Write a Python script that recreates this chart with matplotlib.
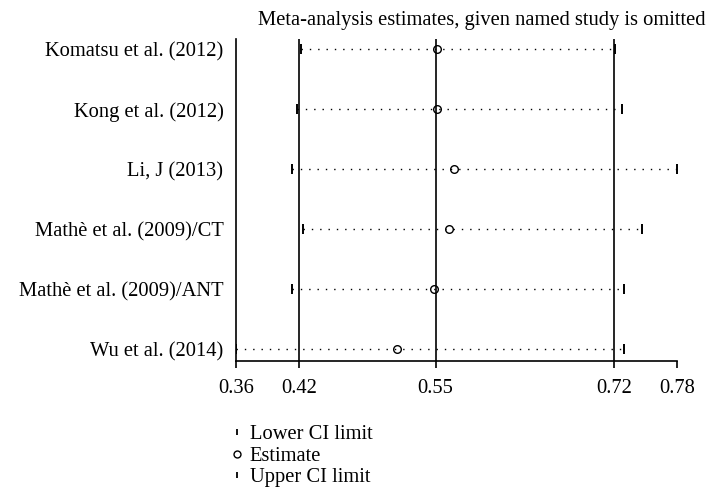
import matplotlib
matplotlib.use("Agg")
import matplotlib.pyplot as plt
from matplotlib.lines import Line2D

studies = ["Komatsu et al. (2012)", "Kong et al. (2012)", "Li, J (2013)",
           "Mathè et al. (2009)/CT", "Mathè et al. (2009)/ANT", "Wu et al. (2014)"]
lower = [0.422, 0.418, 0.413, 0.424, 0.413, 0.360]
estimate = [0.551, 0.551, 0.568, 0.563, 0.549, 0.513]
upper = [0.721, 0.728, 0.780, 0.747, 0.730, 0.730]
ref_lines = [0.42, 0.55, 0.72]
xticks = [0.36, 0.42, 0.55, 0.72, 0.78]
xtick_labels = ["0.36", "0.42", "0.55", "0.72", "0.78"]

plt.rcParams['font.family'] = ['Liberation Serif', 'DejaVu Serif']
FS = 14.8

fig = plt.figure(figsize=(7.12, 4.95), dpi=100)
ax = fig.add_axes([236/712, 1-361/495, (677-236)/712, (361-39)/495])

rows = list(range(1, len(studies) + 1))
for y, lo, est, up in zip(rows, lower, estimate, upper):
    ax.plot([lo, up], [y, y], color='black', lw=1.0, linestyle=(0, (1, 5)))
ax.plot(lower, rows, linestyle='none', marker='|', markersize=7, mew=1.4, color='black')
ax.plot(upper, rows, linestyle='none', marker='|', markersize=7, mew=1.4, color='black')
ax.plot(estimate, rows, linestyle='none', marker='o', markersize=5.5, mfc='none', mec='black', mew=1.0)

for v in ref_lines:
    ax.axvline(v, color='black', lw=1.2)

ax.set_xlim(0.36, 0.78)
ax.set_ylim(6.2, 0.83)
ax.set_xticks(xticks)
ax.set_xticklabels(xtick_labels)
ax.set_yticks(rows)
ax.set_yticklabels(studies)
ax.tick_params(axis='y', length=0, pad=9, labelsize=FS)
ax.tick_params(axis='x', length=5, width=1.2, pad=8, labelsize=FS, direction='out')
for s in ['top', 'right']:
    ax.spines[s].set_visible(False)
ax.spines['left'].set_linewidth(1.2)
ax.spines['bottom'].set_linewidth(1.2)

fig.text(482/712, 1-20/495, "Meta-analysis estimates, given named study is omitted",
         ha='center', va='center', fontsize=FS)

handles = [Line2D([], [], linestyle='none', marker='|', markersize=5, mew=1.3, color='black'),
           Line2D([], [], linestyle='none', marker='o', markersize=5, mfc='none', mec='black', mew=1.0),
           Line2D([], [], linestyle='none', marker='|', markersize=5, mew=1.3, color='black')]
fig.legend(handles, ["Lower CI limit", "Estimate", "Upper CI limit"],
           loc='upper left', bbox_to_anchor=(229/712, 1-425/495), frameon=False,
           fontsize=FS, handlelength=0.8, handletextpad=0.2, labelspacing=0.1,
           borderpad=0, borderaxespad=0)

fig.savefig("out.png", dpi=100)
